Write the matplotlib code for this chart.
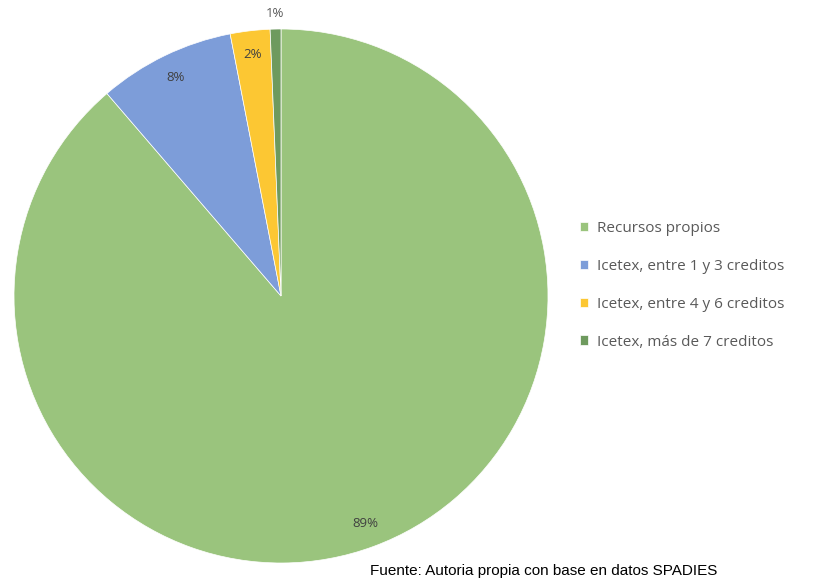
import matplotlib
matplotlib.use("Agg")
import matplotlib.pyplot as plt
import numpy as np

categories = ["Recursos propios", "Icetex, entre 1 y 3 creditos",
              "Icetex, entre 4 y 6 creditos", "Icetex, más de 7 creditos"]
values = [88.7, 8.25, 2.4, 0.65]
colors = ["#9AC47D", "#7D9DD9", "#FCC733", "#6E9A5E"]
source = "Fuente: Autoria propia con base en datos SPADIES"

W, H = 815, 582
fig = plt.figure(figsize=(W / 100, H / 100), dpi=100)
cx, cy, r = 281, 296, 267
ax = fig.add_axes([(cx - r) / W, (H - cy - r) / H, 2 * r / W, 2 * r / H])

wedges, texts, autotexts = ax.pie(
    values, colors=colors, startangle=90, counterclock=False,
    autopct="%.0f%%", pctdistance=0.91,
    wedgeprops=dict(linewidth=0.5, edgecolor="white"),
    textprops=dict(color="#404040", fontsize=9.5, family="Open Sans"))
ax.set_xlim(-1, 1)
ax.set_ylim(-1, 1)
ax.set_aspect("equal")
ax.axis("off")

# small last slice label placed outside
t = autotexts[3]
x, y = t.get_position()
ang = np.arctan2(y, x)
t.set_position((1.06 * np.cos(ang), 1.06 * np.sin(ang)))
t.set_color("#595959")

leg = fig.legend(wedges, categories, loc="upper left",
                 bbox_to_anchor=(566 / W, 1 - 207 / H), frameon=False,
                 handlelength=0.55, handleheight=0.55, handletextpad=0.6,
                 labelspacing=1.5,
                 prop=dict(family="Open Sans", size=11))
for txt in leg.get_texts():
    txt.set_color("#595959")

fig.text(370 / W, 1 - 571 / H, source, fontsize=11, family="Liberation Sans",
         color="black", va="center", ha="left")

fig.savefig("out.png", dpi=100, facecolor="white")
